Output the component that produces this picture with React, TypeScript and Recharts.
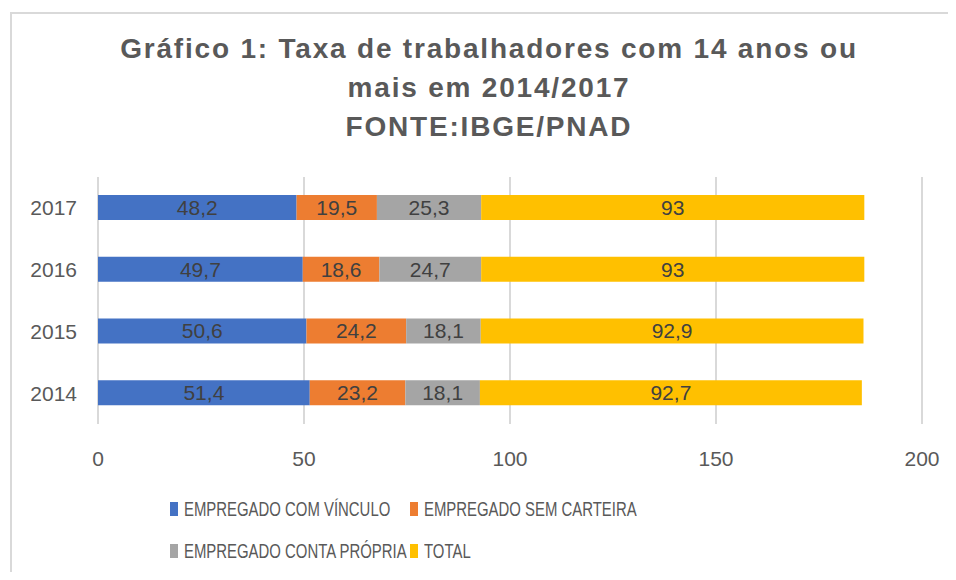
import { Bar, BarChart, CartesianGrid, LabelList, XAxis, YAxis } from 'recharts'

const YEARS = ['2014', '2015', '2016', '2017']
const COM_VINCULO = [51.4, 50.6, 49.7, 48.2]
const SEM_CARTEIRA = [23.2, 24.2, 18.6, 19.5]
const CONTA_PROPRIA = [18.1, 18.1, 24.7, 25.3]
const TOTAL = [92.7, 92.9, 93, 93]
const X_TICKS = [0, 50, 100, 150, 200]

const SERIES = [
  { key: 'vinculo', name: 'EMPREGADO COM VÍNCULO', color: '#4472C4' },
  { key: 'sem', name: 'EMPREGADO SEM CARTEIRA', color: '#ED7D31' },
  { key: 'conta', name: 'EMPREGADO CONTA PRÓPRIA', color: '#A5A5A5' },
  { key: 'total', name: 'TOTAL', color: '#FFC000' },
]

const data = YEARS.map((year, i) => ({
  year,
  vinculo: COM_VINCULO[i],
  sem: SEM_CARTEIRA[i],
  conta: CONTA_PROPRIA[i],
  total: TOTAL[i],
}))

const NUM_FONT = "'Liberation Sans', Arial, sans-serif"
const fmt = (v: any) => String(v).replace('.', ',')

// legend is laid out in two fixed columns, like the original
const LEGEND_POS = [
  { left: 170, top: 496 },
  { left: 410, top: 496 },
  { left: 170, top: 538 },
  { left: 410, top: 538 },
]

export default function App() {
  return (
    <div style={{ position: 'relative', width: 956, height: 580, margin: -8, background: '#fff', overflow: 'hidden' }}>
      <div
        style={{
          position: 'absolute', left: 10, top: 12, width: 960, height: 580,
          borderLeft: '2px solid #d9d9d9', borderTop: '2px solid #d9d9d9',
        }}
      />
      <div
        style={{
          position: 'absolute', left: 0, top: 29, width: 978, textAlign: 'center',
          fontFamily: NUM_FONT, fontWeight: 'bold', fontSize: 28, lineHeight: '39px',
          letterSpacing: 1.8, color: '#595959',
        }}
      >
        Gráfico 1: Taxa de trabalhadores com 14 anos ou
        <br />
        mais em 2014/2017
        <br />
        FONTE:IBGE/PNAD
      </div>
      <div style={{ position: 'absolute', left: 0, top: 0 }}>
        <BarChart
          width={956}
          height={580}
          data={data}
          layout="vertical"
          margin={{ top: 177, right: 34, bottom: 116, left: 0 }}
          barSize={25}
        >
          <CartesianGrid horizontal={false} stroke="#d9d9d9" strokeWidth={2} />
          <XAxis
            type="number"
            domain={[0, 200]}
            ticks={X_TICKS}
            axisLine={false}
            tickLine={false}
            height={40}
            tickMargin={21}
            tick={{ fill: '#595959', fontSize: 21, fontFamily: NUM_FONT }}
          />
          <YAxis
            type="category"
            dataKey="year"
            reversed
            width={98}
            axisLine={false}
            tickLine={false}
            tickSize={0}
            tickMargin={21}
            tick={{ fill: '#595959', fontSize: 21, fontFamily: NUM_FONT }}
          />
          {SERIES.map((s) => (
            <Bar key={s.key} dataKey={s.key} name={s.name} stackId="a" fill={s.color} isAnimationActive={false}>
              <LabelList
                dataKey={s.key}
                position="center"
                formatter={fmt}
                fill="#404040"
                fontSize={21}
                fontFamily={NUM_FONT}
              />
            </Bar>
          ))}
        </BarChart>
      </div>
      {SERIES.map((s, i) => (
        <div
          key={s.key}
          style={{
            position: 'absolute', ...LEGEND_POS[i], height: 26,
            display: 'flex', alignItems: 'center', whiteSpace: 'nowrap',
            fontFamily: NUM_FONT, fontSize: 21, color: '#595959',
          }}
        >
          <span style={{ flexShrink: 0, width: 8, height: 14, background: s.color, marginRight: 6 }} />
          <span style={{ display: 'inline-block', transform: 'scaleX(0.71)', transformOrigin: 'left center' }}>
            {s.name}
          </span>
        </div>
      ))}
    </div>
  )
}
